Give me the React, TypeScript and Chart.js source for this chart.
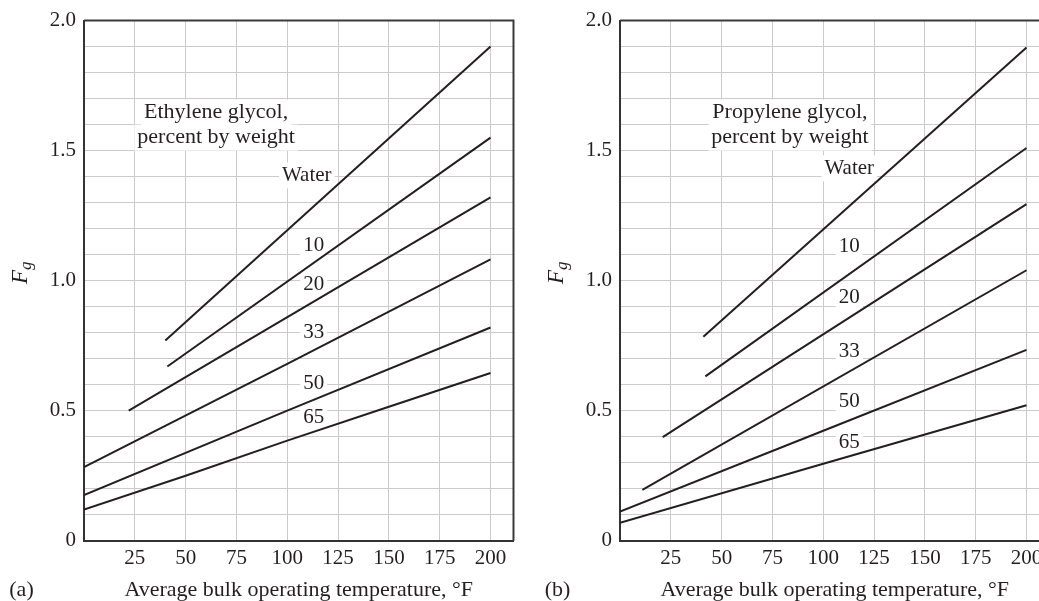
import React, { useEffect, useRef } from "react";
import { Chart, registerables } from "chart.js";

Chart.register(...registerables);

// ---- axes ----
const xTicks = [25, 50, 75, 100, 125, 150, 175, 200];
const xAxisMax = 211.3;
const yTicks = [0, 0.5, 1.0, 1.5, 2.0];
const yGridStep = 0.1;
const yAxisMax = 2.0;
const xTitle = "Average bulk operating temperature, °F";
const panelLetters = ["(a)", "(b)"];

// ---- series names (curve labels) ----
const curveNames = ["Water", "10", "20", "33", "50", "65"];

// ---- (a) Ethylene glycol: temperature (°F) and Fg ----
const ethWaterT = [40, 200];
const ethWaterF = [0.77, 1.9];
const eth10T = [41, 200];
const eth10F = [0.67, 1.55];
const eth20T = [22, 200];
const eth20F = [0.5, 1.32];
const eth33T = [0, 100, 200];
const eth33F = [0.283, 0.68, 1.082];
const eth50T = [0, 100, 200];
const eth50F = [0.175, 0.5, 0.82];
const eth65T = [0, 50, 100, 150, 200];
const eth65F = [0.12, 0.25, 0.385, 0.515, 0.645];

const ethLabelT = [109.6, 113, 113, 113, 113, 113];
const ethLabelF = [1.405, 1.134, 0.985, 0.799, 0.604, 0.474];
const ethHeader = ["Ethylene glycol,", "percent by weight"];
const ethHeaderT = 65;
const ethHeaderF = [1.646, 1.55];

// ---- (b) Propylene glycol ----
const propWaterT = [41, 200];
const propWaterF = [0.784, 1.897];
const prop10T = [42, 200];
const prop10F = [0.632, 1.51];
const prop20T = [21, 200];
const prop20F = [0.398, 1.294];
const prop33T = [11, 200];
const prop33F = [0.195, 1.04];
const prop50T = [0, 100, 200];
const prop50F = [0.112, 0.423, 0.734];
const prop65T = [0, 100, 200];
const prop65F = [0.069, 0.296, 0.521];

const propLabelT = [112.8, 112.8, 112.8, 112.8, 112.8, 112.8];
const propLabelF = [1.432, 1.133, 0.934, 0.729, 0.534, 0.378];
const propHeader = ["Propylene glycol,", "percent by weight"];
const propHeaderT = 83.6;
const propHeaderF = [1.646, 1.55];

const INK = "#231f20";
const GRID = "#cbcbcb";
const FONT = "'Liberation Serif', 'Times New Roman', serif";
const FS = 21;
const FS_BIG = 22;

function pts(t: number[], f: number[]) {
  return t.map((v, i) => ({ x: v, y: f[i] }));
}

type PanelDef = {
  series: { t: number[]; f: number[] }[];
  labelT: number[];
  labelF: number[];
  header: string[];
  headerT: number;
  headerF: number[];
  letter: string;
};

const panels: PanelDef[] = [
  {
    series: [
      { t: ethWaterT, f: ethWaterF },
      { t: eth10T, f: eth10F },
      { t: eth20T, f: eth20F },
      { t: eth33T, f: eth33F },
      { t: eth50T, f: eth50F },
      { t: eth65T, f: eth65F },
    ],
    labelT: ethLabelT,
    labelF: ethLabelF,
    header: ethHeader,
    headerT: ethHeaderT,
    headerF: ethHeaderF,
    letter: panelLetters[0],
  },
  {
    series: [
      { t: propWaterT, f: propWaterF },
      { t: prop10T, f: prop10F },
      { t: prop20T, f: prop20F },
      { t: prop33T, f: prop33F },
      { t: prop50T, f: prop50F },
      { t: prop65T, f: prop65F },
    ],
    labelT: propLabelT,
    labelF: propLabelF,
    header: propHeader,
    headerT: propHeaderT,
    headerF: propHeaderF,
    letter: panelLetters[1],
  },
];

function drawBoxedText(ctx: CanvasRenderingContext2D, text: string, x: number, y: number) {
  const w = ctx.measureText(text).width;
  ctx.fillStyle = "#ffffff";
  ctx.fillRect(x - w / 2 - 3, y - 13, w + 6, 26);
  ctx.fillStyle = INK;
  ctx.fillText(text, x, y);
}

function Panel({ def, left }: { def: PanelDef; left: number }) {
  const ref = useRef<HTMLCanvasElement>(null);
  useEffect(() => {
    const annot = {
      id: "annot",
      beforeDatasetsDraw(chart: any) {
        const { ctx, chartArea: a, scales } = chart;
        ctx.save();
        // frame top & right
        ctx.strokeStyle = "#3a3a3a";
        ctx.lineWidth = 2;
        ctx.beginPath();
        ctx.moveTo(a.left, a.top);
        ctx.lineTo(a.right, a.top);
        ctx.lineTo(a.right, a.bottom);
        ctx.stroke();
        ctx.textAlign = "center";
        ctx.textBaseline = "middle";
        ctx.font = `${FS_BIG}px ${FONT}`;
        def.header.forEach((h, i) => {
          drawBoxedText(ctx, h, scales.x.getPixelForValue(def.headerT), scales.y.getPixelForValue(def.headerF[i]));
        });
        ctx.font = `${FS}px ${FONT}`;
        curveNames.forEach((n, i) => {
          drawBoxedText(ctx, n, scales.x.getPixelForValue(def.labelT[i]), scales.y.getPixelForValue(def.labelF[i]));
        });
        ctx.restore();
      },
      afterDraw(chart: any) {
        const { ctx, chartArea: a } = chart;
        ctx.save();
        ctx.fillStyle = INK;
        // panel letter
        ctx.font = `${FS_BIG}px ${FONT}`;
        ctx.textAlign = "center";
        ctx.textBaseline = "middle";
        ctx.fillText(def.letter, a.left - 62.5, chart.height - 11);
        // y-axis title F_g
        const cx = 20;
        const cy = (a.top + a.bottom) / 2 - 8;
        ctx.translate(a.left - 84 + cx, cy);
        ctx.rotate(-Math.PI / 2);
        ctx.textAlign = "left";
        ctx.textBaseline = "alphabetic";
        ctx.font = `italic ${FS + 2}px ${FONT}`;
        const wF = ctx.measureText("F").width;
        ctx.font = `italic 17px ${FONT}`;
        const wg = ctx.measureText("g").width;
        const start = -(wF + wg) / 2;
        ctx.font = `italic ${FS + 2}px ${FONT}`;
        ctx.fillText("F", start, 7);
        ctx.font = `italic 17px ${FONT}`;
        ctx.fillText("g", start + wF, 11);
        ctx.restore();
      },
    };

    const chart = new Chart(ref.current!, {
      type: "line",
      data: {
        datasets: def.series.map((s, i) => ({
          label: curveNames[i],
          data: pts(s.t, s.f),
          borderColor: INK,
          borderWidth: 2,
          pointRadius: 0,
          tension: 0,
          fill: false,
        })),
      },
      options: {
        responsive: false,
        animation: false,
        devicePixelRatio: 1,
        layout: { padding: { top: 17.5, right: 26.5, left: 0, bottom: 0 } },
        plugins: { legend: { display: false }, tooltip: { enabled: false } },
        scales: {
          x: {
            type: "linear",
            min: 0,
            max: xAxisMax,
            afterBuildTicks: (s: any) => {
              s.ticks = xTicks.map((v) => ({ value: v }));
            },
            afterFit: (s: any) => {
              s.height = 60.3;
            },
            grid: { color: GRID, lineWidth: 1, drawTicks: false },
            border: { display: true, color: "#333333", width: 2 },
            ticks: {
              padding: 5,
              color: INK,
              font: { family: FONT, size: FS },
              maxRotation: 0,
              autoSkip: false,
              callback: (v: any) => String(v),
            },
            title: {
              display: true,
              text: xTitle,
              color: INK,
              font: { family: FONT, size: FS_BIG, lineHeight: 1 },
              padding: { top: 0, bottom: 0 },
            },
          },
          y: {
            type: "linear",
            min: 0,
            max: yAxisMax,
            afterBuildTicks: (s: any) => {
              const n = Math.round(yAxisMax / yGridStep);
              const t: any[] = [];
              for (let i = 0; i <= n; i++) t.push({ value: Math.round(i * yGridStep * 1000) / 1000 });
              s.ticks = t;
            },
            afterFit: (s: any) => {
              s.width = 84;
            },
            grid: { color: GRID, lineWidth: 1, drawTicks: false },
            border: { display: true, color: "#333333", width: 2 },
            ticks: {
              padding: 8,
              color: INK,
              font: { family: FONT, size: FS },
              autoSkip: false,
              callback: (v: any) =>
                yTicks.some((t) => Math.abs(t - v) < 1e-9) ? (v === 0 ? "0" : Number(v).toFixed(1)) : "",
            },
          },
        },
      },
      plugins: [annot],
    } as any);
    return () => chart.destroy();
  }, [def]);
  return (
    <canvas
      ref={ref}
      width={540}
      height={601}
      style={{ position: "absolute", left, top: 0, width: 540, height: 601 }}
    />
  );
}

export default function App() {
  return (
    <div
      style={{
        position: "fixed",
        left: 0,
        top: 0,
        width: 1039,
        height: 601,
        overflow: "hidden",
        background: "#ffffff",
      }}
    >
      <Panel def={panels[0]} left={0} />
      <Panel def={panels[1]} left={536} />
    </div>
  );
}
